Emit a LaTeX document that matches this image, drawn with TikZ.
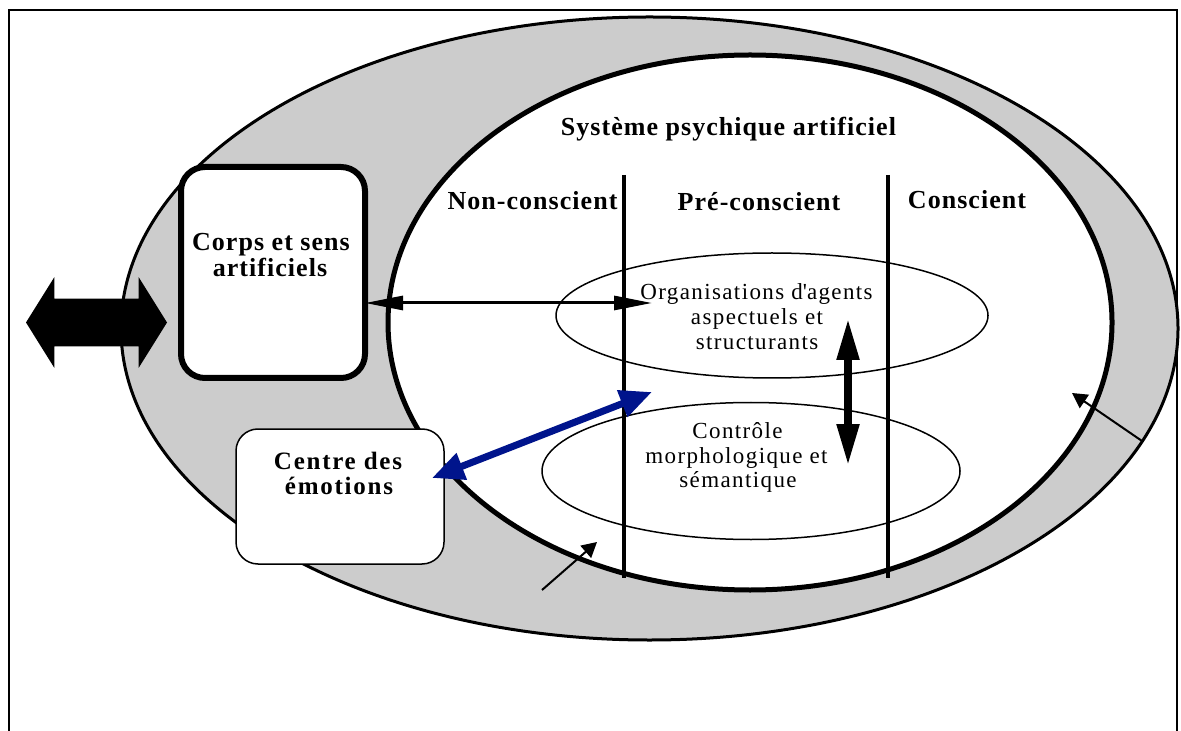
\documentclass[tikz,border=0pt]{standalone}
\usepackage{fontspec}
\setmainfont{Liberation Serif}
\newfontfamily\bodyfont{Liberation Serif}[LetterSpace=6]
\newfontfamily\headfont{Liberation Serif}[LetterSpace=4]
\newfontfamily\widefont{Liberation Serif}[LetterSpace=7]
\usetikzlibrary{arrows.meta,shapes.geometric,shapes.arrows}

\definecolor{ringgray}{RGB}{204,204,204}
\definecolor{linkblue}{RGB}{0,20,140}

\tikzset{
  ring/.style={ellipse, draw, inner sep=0pt, outer sep=0pt},
  zone/.style={ellipse, draw, line width=0.75pt, inner sep=0pt, outer sep=0pt},
  divider/.style={line width=2pt},
  headtext/.style={anchor=base, inner sep=0pt, font=\fontsize{13}{15}\headfont\bfseries},
  bodytext/.style={anchor=base, inner sep=0pt, font=\fontsize{11.5}{13}\bodyfont},
  emotext/.style={anchor=base, inner sep=0pt, font=\fontsize{12.5}{15}\widefont\bfseries},
  thinlink/.style={line width=1.5pt, {Triangle[length=19pt,width=7pt]}-{Triangle[length=19pt,width=7pt]}},
  boldlink/.style={line width=4pt, {Triangle[length=21pt,width=10.5pt]}-{Triangle[length=21pt,width=10.5pt]}},
  bluelink/.style={draw=linkblue, line width=3.5pt, {Triangle[length=16pt,width=13.5pt]}-{Triangle[length=16pt,width=13.5pt]}},
  pointer/.style={line width=1pt, -{Triangle[length=7.5pt,width=8pt]}}
}

\begin{document}
\begin{tikzpicture}[x=0.5pt,y=-0.5pt]
\useasboundingbox (0,0) rectangle (1181,731);

% open frame
\draw[line width=1pt] (9,731) -- (9,10) -- (1177,10) -- (1177,731);

% environment ring and psychic system
\node[ring, fill=ringgray, line width=1.5pt, minimum width=528.5pt, minimum height=311.5pt] (outer) at (649.5,328.5) {};
\node[ring, fill=white, line width=2.5pt, minimum width=362pt, minimum height=267.5pt] (inner) at (750,322.5) {};

% agent zones
\node[zone, minimum width=216pt, minimum height=62.5pt] (orgzone) at (772,315.5) {};
\node[zone, minimum width=209pt, minimum height=68.5pt] (ctlzone) at (751,471) {};

% layer dividers
\coordinate (d1t) at (624,175);
\coordinate (d1b) at (624,578);
\coordinate (d2t) at (888,175);
\coordinate (d2b) at (888,578);
\draw[divider] (d1t) -- (d1b);
\draw[divider] (d2t) -- (d2b);

% boxes
\node[draw, line width=3pt, rounded corners=12pt, fill=white, minimum width=92pt, minimum height=105.5pt, inner sep=0pt, outer sep=0pt] (corps) at (273,272.5) {};
\node[draw, line width=0.75pt, rounded corners=11pt, fill=white, minimum width=104pt, minimum height=67.5pt, inner sep=0pt, outer sep=0pt] (centre) at (340,496.5) {};

% labels
\node[headtext] (title) at (728.5,136) {Système psychique artificiel};
\node[headtext] (ncl) at (532.5,210) {Non-conscient};
\node[headtext] (pcl) at (759,211) {Pré-conscient};
\node[headtext] (ccl) at (967,209) {Conscient};
\node[headtext] (corps1) at (271,251) {Corps et sens};
\node[headtext] (corps2) at (270,277) {artificiels};
\node[emotext] (centre1) at (338,469) {Centre des};
\node[emotext] (centre2) at (339,494) {émotions};
\node[bodytext] (org1) at (756.5,300) {Organisations d\textquotesingle agents};
\node[bodytext] (org2) at (757,325) {aspectuels et};
\node[bodytext] (org3) at (757,350) {structurants};
\node[bodytext] (ctl1) at (737.5,438) {Contrôle};
\node[bodytext] (ctl2) at (736.5,463) {morphologique et};
\node[bodytext] (ctl3) at (738,487) {sémantique};

% exchange with the outside world
\node[double arrow, fill=black, draw=none, minimum height=70.5pt,
      inner xsep=0pt, inner ysep=11.75pt,
      double arrow head extend=10.75pt, double arrow tip angle=116] (io) at (96.5,322.5) {};

% links
\coordinate (hR) at (652,303);
\draw[thinlink] (corps.east |- hR) -- (hR);

\coordinate (vT) at (848,318);
\coordinate (vB) at (848,466);
\draw[boldlink] (vT) -- (vB);

\coordinate (bL) at (432,478);
\coordinate (bR) at (652,392);
\draw[bluelink] (bL) -- (bR);

\coordinate (p1s) at (542,590);
\coordinate (p1e) at (597,542);
\draw[pointer] (p1s) -- (p1e);
\coordinate (p2s) at (1142,441);
\coordinate (p2e) at (1072,393);
\draw[pointer] (p2s) -- (p2e);
\end{tikzpicture}
\end{document}
